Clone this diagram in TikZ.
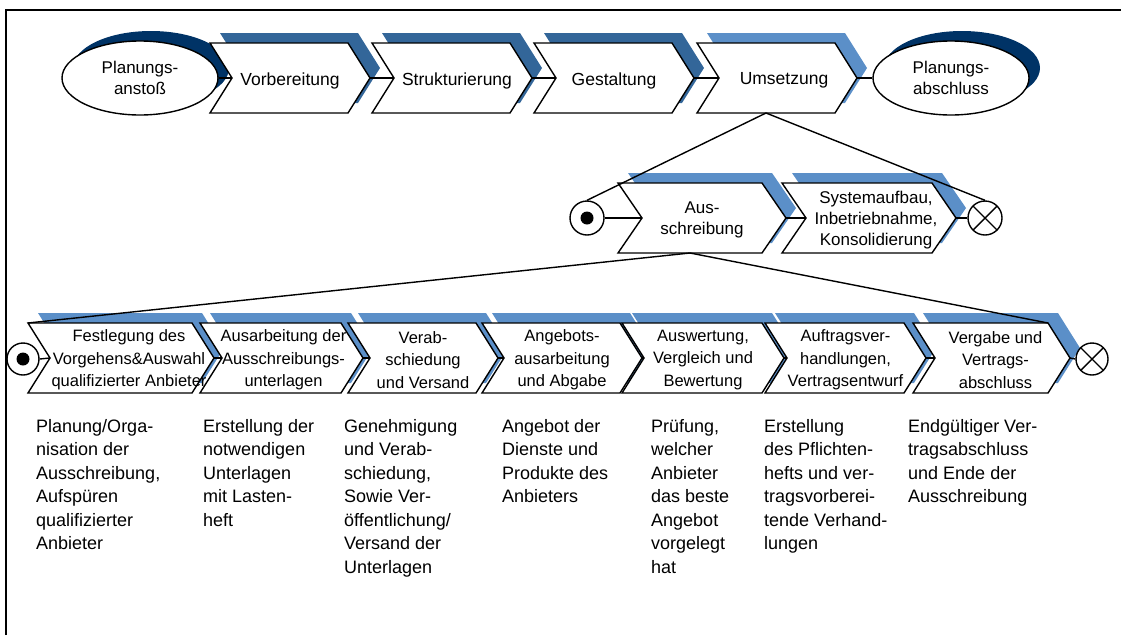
\documentclass[tikz,border=0pt]{standalone}
\usepackage{fontspec}
\setmainfont{Liberation Sans}
\usetikzlibrary{shapes.geometric,calc}

\definecolor{navyshade}{HTML}{003366}
\definecolor{darkshade}{HTML}{336699}
\definecolor{lightshade}{HTML}{5B8FC8}

\tikzset{
  outline/.style={draw=black, line width=1.4pt, fill=white, line join=miter},
  link/.style={draw=black, line width=1.4pt},
  frameline/.style={draw=black, line width=2pt},
  toplabel/.style={font=\fontsize{17.5}{21}\selectfont, align=center, inner sep=0pt, yshift=-2.5pt},
  evlabel/.style={font=\fontsize{17}{21}\selectfont, align=center},
  midlabel/.style={font=\fontsize{17}{21}\selectfont, align=center, inner sep=0pt, yshift=-2pt},
  botlabel/.style={font=\fontsize{16.5}{22.5}\selectfont, align=center, inner sep=0pt, yshift=-2pt},
  desc/.style={font=\fontsize{18}{23.5}\selectfont, align=left, anchor=north west, inner sep=0pt},
  planev/.style={ellipse, draw=black, line width=1.4pt, fill=white,
    minimum width=156pt, minimum height=74pt, inner sep=0pt, evlabel},
  startev/.style={circle, draw=black, line width=1.4pt, fill=white,
    minimum size=#1, inner sep=0pt,
    path picture={\fill[black] (path picture bounding box.center) circle (6.5pt);}},
  endev/.style={circle, draw=black, line width=1.4pt, fill=white,
    minimum size=#1, inner sep=0pt,
    path picture={\draw[line width=1.4pt]
      (path picture bounding box.north west) -- (path picture bounding box.south east)
      (path picture bounding box.north east) -- (path picture bounding box.south west);}},
}

% shaded copy of a chevron, moved up and to the right
% #1 left, #2 right (top corner), #3 centre y, #4 point depth, #5 colour
\newcommand\chevshade[5]{%
  \fill[#5, shift={(10,-10)}] (#1,#3-35) -- (#2,#3-35) -- (#2+#4,#3) -- (#2,#3+35)
    -- (#1,#3+35) -- (#1+#4,#3) -- cycle;}

% white chevron with its label and named corner points
% #1 name, #2 left, #3 right (top corner), #4 centre y, #5 point depth, #6 label style, #7 label
\newcommand\chevbox[7]{%
  \path[outline] (#2,#4-35) -- (#3,#4-35) -- (#3+#5,#4) -- (#3,#4+35)
    -- (#2,#4+35) -- (#2+#5,#4) -- cycle;
  \coordinate (#1-nw) at (#2,#4-35);
  \coordinate (#1-ne) at (#3,#4-35);
  \coordinate (#1-in) at (#2+#5,#4);
  \coordinate (#1-out) at (#3+#5,#4);
  \coordinate (#1-s) at ({(#2+#3)/2},#4+35);
  \node[#6] (#1) at ({(#2+#5+#3)/2},#4) {#7};}

\begin{document}
\begin{tikzpicture}[x=1pt, y=-1pt]
\useasboundingbox (0,0) rectangle (1121,635);

% frame
\draw[frameline] (6,635) -- (6,10) -- (1121,10);

% ---------- shades ----------
\fill[navyshade] (151,68) ellipse [x radius=78, y radius=37];
\fill[navyshade] (962,68) ellipse [x radius=78, y radius=37];
\chevshade{210}{348}{78}{22}{darkshade}
\chevshade{372}{510}{78}{22}{darkshade}
\chevshade{534}{672}{78}{22}{darkshade}
\chevshade{697}{835}{78}{22}{lightshade}

\chevshade{618}{762}{218}{24}{lightshade}
\chevshade{782}{932}{218}{24}{lightshade}

\chevshade{28}{192}{358}{22}{lightshade}
\chevshade{200}{341}{358}{22}{lightshade}
\chevshade{348}{476}{358}{22}{lightshade}
\chevshade{482}{620}{358}{22}{lightshade}
\chevshade{622}{762}{358}{22}{lightshade}
\chevshade{765}{904}{358}{22}{lightshade}
\chevshade{913}{1048}{358}{22}{lightshade}

% ---------- planning phases ----------
\node[planev] (pa) at (140,78) {Planungs-\\anstoß};
\node[planev] (pe) at (951,78) {Planungs-\\abschluss};
\chevbox{vorb}{210}{348}{78}{22}{toplabel}{Vorbereitung}
\chevbox{strukt}{372}{510}{78}{22}{toplabel, xshift=5pt}{Strukturierung}
\chevbox{gestalt}{534}{672}{78}{22}{toplabel}{Gestaltung}
\chevbox{umsetz}{697}{835}{78}{22}{toplabel, xshift=7pt}{Umsetzung}

% ---------- implementation ----------
\node[startev=34pt] (mstart) at (587,218) {};
\node[endev=34pt] (mend) at (985,218) {};
\chevbox{aus}{618}{762}{218}{24}{midlabel}{Aus-\\schreibung}
\chevbox{sys}{782}{932}{218}{24}{midlabel, xshift=7pt}{Systemaufbau,\\Inbetriebnahme,\\Konsolidierung}

% ---------- tendering ----------
\node[startev=32pt] (bstart) at (23,359) {};
\node[endev=32pt] (bend) at (1092,359) {};
\chevbox{b1}{28}{192}{358}{22}{botlabel, xshift=8pt}{Festlegung des\\Vorgehens\&Auswahl\\qualifizierter Anbieter}
\chevbox{b2}{200}{341}{358}{22}{botlabel, xshift=2pt}{Ausarbeitung der\\Ausschreibungs-\\unterlagen}
\chevbox{b3}{348}{476}{358}{22}{botlabel}{Verab-\\schiedung\\und Versand}
\chevbox{b4}{482}{620}{358}{22}{botlabel}{Angebots-\\ausarbeitung\\und Abgabe}
\chevbox{b5}{622}{762}{358}{22}{botlabel}{Auswertung,\\Vergleich und\\Bewertung}
\chevbox{b6}{765}{904}{358}{22}{botlabel}{Auftragsver-\\handlungen,\\Vertragsentwurf}
\chevbox{b7}{913}{1048}{358}{22}{botlabel, xshift=4pt}{Vergabe und\\Vertrags-\\abschluss}

% ---------- connectors ----------
\draw[link] (pa.east) -- (vorb-in);
\draw[link] (vorb-out) -- (strukt-in);
\draw[link] (strukt-out) -- (gestalt-in);
\draw[link] (gestalt-out) -- (umsetz-in);
\draw[link] (umsetz-out) -- (pe.west);

\draw[link] (umsetz-s) -- (mstart.north);
\draw[link] (umsetz-s) -- (mend.north);
\draw[link] (mstart.east) -- (aus-in);
\draw[link] (aus-out) -- (sys-in);
\draw[link] (sys-out) -- (mend.west);

\draw[link] (aus-s) -- (b1-nw);
\draw[link] (aus-s) -- (b7-ne);
\draw[link] (bstart.east) -- (b1-in);
\draw[link] (b1-out) -- (b2-in);
\draw[link] (b2-out) -- (b3-in);
\draw[link] (b3-out) -- (b4-in);
\draw[link] (b4-out) -- (b5-in);
\draw[link] (b5-out) -- (b6-in);
\draw[link] (b6-out) -- (b7-in);
\draw[link] (b7-out) -- (bend.west);

% ---------- descriptions ----------
\node[desc] (d1) at (36,419) {Planung/Orga-\\nisation der\\Ausschreibung,\\Aufspüren\\qualifizierter\\Anbieter};
\node[desc] (d2) at (203,419) {Erstellung der\\notwendigen\\Unterlagen\\mit Lasten-\\heft};
\node[desc] (d3) at (344,419) {Genehmigung\\und Verab-\\schiedung,\\Sowie Ver-\\öffentlichung/\\Versand der\\Unterlagen};
\node[desc] (d4) at (502,419) {Angebot der\\Dienste und\\Produkte des\\Anbieters};
\node[desc] (d5) at (651,419) {Prüfung,\\welcher\\Anbieter\\das beste\\Angebot\\vorgelegt\\hat};
\node[desc] (d6) at (764,419) {Erstellung\\des Pflichten-\\hefts und ver-\\tragsvorberei-\\tende Verhand-\\lungen};
\node[desc] (d7) at (908,419) {Endgültiger Ver-\\tragsabschluss\\und Ende der\\Ausschreibung};
\end{tikzpicture}
\end{document}
